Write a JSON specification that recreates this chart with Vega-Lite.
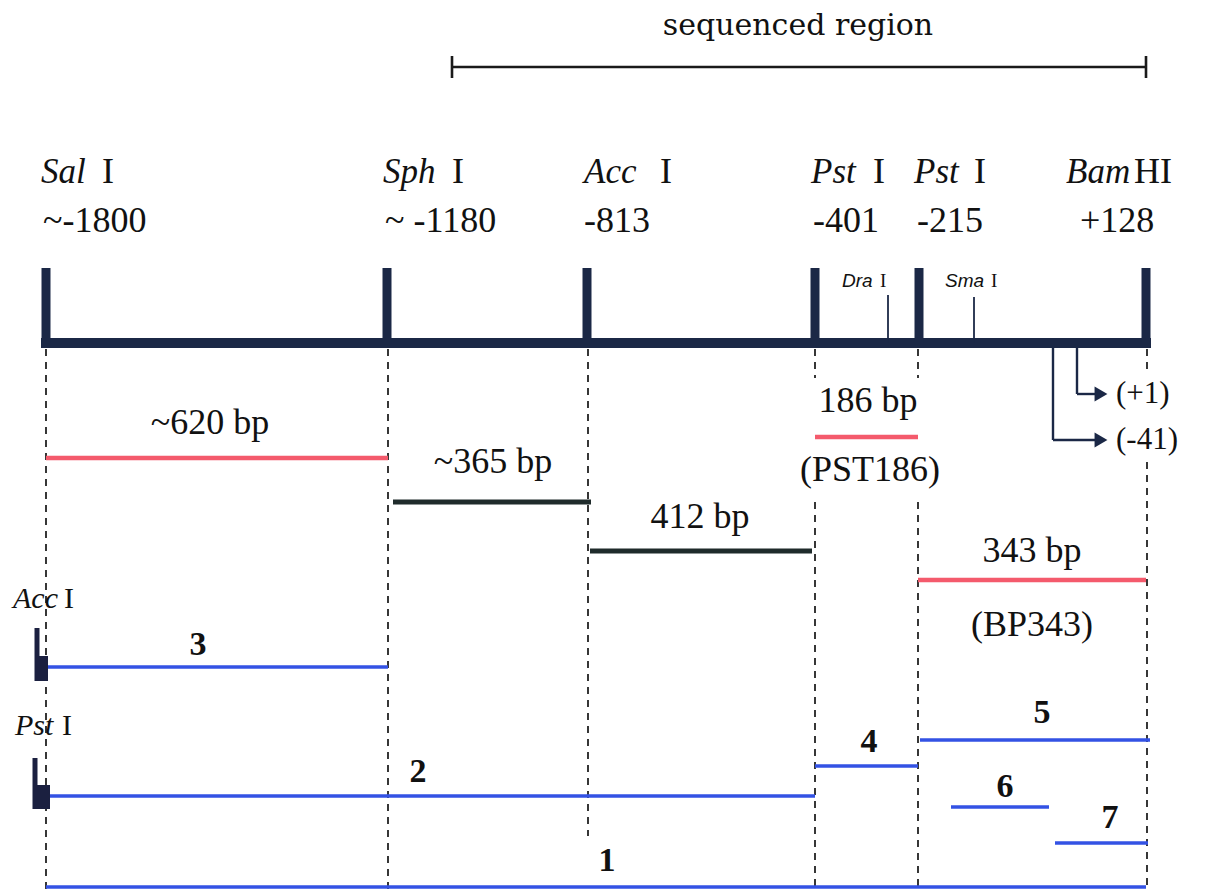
{
  "$schema": "https://vega.github.io/schema/vega-lite/v6.json",
  "width": 1213,
  "height": 891,
  "padding": 0,
  "autosize": {"type": "fit", "contains": "padding"},
  "background": "white",
  "config": {"view": {"stroke": null}},
  "datasets": {
    "segs": [
      {"kind": "seq", "x": 452, "x2": 1146, "y": 67, "y2": 67},
      {"kind": "seqcap", "x": 452, "x2": 452, "y": 56, "y2": 78},
      {"kind": "seqcap", "x": 1146, "x2": 1146, "y": 56, "y2": 78},
      {"kind": "backbone", "x": 41, "x2": 1151, "y": 343, "y2": 343},
      {"kind": "site", "x": 46, "x2": 46, "y": 268, "y2": 343},
      {"kind": "site", "x": 387, "x2": 387, "y": 268, "y2": 343},
      {"kind": "site", "x": 587, "x2": 587, "y": 268, "y2": 343},
      {"kind": "site", "x": 815, "x2": 815, "y": 268, "y2": 343},
      {"kind": "site", "x": 919, "x2": 919, "y": 268, "y2": 343},
      {"kind": "site", "x": 1146, "x2": 1146, "y": 268, "y2": 343},
      {"kind": "minor", "x": 888, "x2": 888, "y": 295, "y2": 343},
      {"kind": "minor", "x": 974, "x2": 974, "y": 297, "y2": 343},
      {"kind": "dash", "x": 46, "x2": 46, "y": 349, "y2": 890},
      {"kind": "dash", "x": 388, "x2": 388, "y": 349, "y2": 890},
      {"kind": "dash", "x": 588, "x2": 588, "y": 349, "y2": 836},
      {"kind": "dash", "x": 815, "x2": 815, "y": 349, "y2": 378},
      {"kind": "dash", "x": 815, "x2": 815, "y": 502, "y2": 890},
      {"kind": "dash", "x": 918, "x2": 918, "y": 349, "y2": 378},
      {"kind": "dash", "x": 918, "x2": 918, "y": 502, "y2": 890},
      {"kind": "dash", "x": 1147, "x2": 1147, "y": 349, "y2": 370},
      {"kind": "dash", "x": 1147, "x2": 1147, "y": 462, "y2": 890},
      {"kind": "red", "x": 46, "x2": 388, "y": 458, "y2": 458},
      {"kind": "red", "x": 815, "x2": 918, "y": 437, "y2": 437},
      {"kind": "red", "x": 918, "x2": 1146, "y": 580, "y2": 580},
      {"kind": "black", "x": 393, "x2": 591, "y": 502, "y2": 502},
      {"kind": "black", "x": 590, "x2": 812, "y": 551, "y2": 551},
      {"kind": "blue", "x": 46, "x2": 388, "y": 667, "y2": 667},
      {"kind": "blue", "x": 46, "x2": 815, "y": 796, "y2": 796},
      {"kind": "blue", "x": 815, "x2": 918, "y": 766, "y2": 766},
      {"kind": "blue", "x": 920, "x2": 1150, "y": 740, "y2": 740},
      {"kind": "blue", "x": 951, "x2": 1049, "y": 807, "y2": 807},
      {"kind": "blue", "x": 1055, "x2": 1148, "y": 843, "y2": 843},
      {"kind": "blue", "x": 46, "x2": 1146, "y": 887, "y2": 887},
      {"kind": "arrow", "x": 1077, "x2": 1077, "y": 343, "y2": 394},
      {"kind": "arrow", "x": 1077, "x2": 1100, "y": 394, "y2": 394},
      {"kind": "arrow", "x": 1053, "x2": 1053, "y": 343, "y2": 440},
      {"kind": "arrow", "x": 1053, "x2": 1100, "y": 440, "y2": 440},
      {"kind": "marker", "x": 37, "x2": 37, "y": 628, "y2": 681},
      {"kind": "marker", "x": 35, "x2": 35, "y": 758, "y2": 809}
    ],
    "blocks": [
      {"x": 35, "x2": 48, "y": 656, "y2": 681},
      {"x": 33, "x2": 50, "y": 785, "y2": 809}
    ],
    "heads": [
      {"x": 1101, "y": 394},
      {"x": 1101, "y": 440}
    ],
    "texts": [
      {"kind": "title", "text": "sequenced region", "x": 798, "y": 35},
      {"kind": "name", "text": "Sal", "x": 41, "y": 183},
      {"kind": "roman", "text": "I", "x": 102, "y": 183},
      {"kind": "name", "text": "Sph", "x": 383, "y": 183},
      {"kind": "roman", "text": "I", "x": 452, "y": 183},
      {"kind": "name", "text": "Acc", "x": 584, "y": 183},
      {"kind": "roman", "text": "I", "x": 660, "y": 183},
      {"kind": "name", "text": "Pst", "x": 811, "y": 183},
      {"kind": "roman", "text": "I", "x": 873, "y": 183},
      {"kind": "name", "text": "Pst", "x": 914, "y": 183},
      {"kind": "roman", "text": "I", "x": 974, "y": 183},
      {"kind": "name", "text": "Bam", "x": 1066, "y": 183},
      {"kind": "roman", "text": "HI", "x": 1134, "y": 183},
      {"kind": "roman", "text": "~-1800", "x": 43, "y": 232},
      {"kind": "roman", "text": "~ -1180", "x": 385, "y": 232},
      {"kind": "roman", "text": "-813", "x": 584, "y": 232},
      {"kind": "roman", "text": "-401", "x": 813, "y": 232},
      {"kind": "roman", "text": "-215", "x": 917, "y": 232},
      {"kind": "roman", "text": "+128", "x": 1080, "y": 232},
      {"kind": "small", "text": "Dra", "x": 842, "y": 287},
      {"kind": "smallroman", "text": "I", "x": 880, "y": 287},
      {"kind": "small", "text": "Sma", "x": 945, "y": 287},
      {"kind": "smallroman", "text": "I", "x": 991, "y": 287},
      {"kind": "frag", "text": "~620 bp", "x": 210, "y": 434},
      {"kind": "frag", "text": "~365 bp", "x": 493, "y": 473},
      {"kind": "frag", "text": "412 bp", "x": 700, "y": 528},
      {"kind": "frag", "text": "186 bp", "x": 868, "y": 412},
      {"kind": "frag", "text": "(PST186)", "x": 870, "y": 481},
      {"kind": "frag", "text": "343 bp", "x": 1032, "y": 562},
      {"kind": "frag", "text": "(BP343)", "x": 1032, "y": 636},
      {"kind": "lane", "text": "3", "x": 198, "y": 655},
      {"kind": "lane", "text": "2", "x": 418, "y": 782},
      {"kind": "lane", "text": "4", "x": 869, "y": 752},
      {"kind": "lane", "text": "5", "x": 1042, "y": 723},
      {"kind": "lane", "text": "6", "x": 1005, "y": 797},
      {"kind": "lane", "text": "7", "x": 1110, "y": 828},
      {"kind": "lane", "text": "1", "x": 607, "y": 871},
      {"kind": "leftname", "text": "Acc", "x": 13, "y": 608},
      {"kind": "leftroman", "text": "I", "x": 64, "y": 608},
      {"kind": "leftname", "text": "Pst", "x": 15, "y": 735},
      {"kind": "leftroman", "text": "I", "x": 62, "y": 735},
      {"kind": "prom", "text": "(+1)", "x": 1116, "y": 403},
      {"kind": "prom", "text": "(-41)", "x": 1116, "y": 449}
    ]
  },
  "encoding": {
    "x": {"field": "x", "type": "quantitative", "axis": null, "scale": {"domain": [0, 1213], "nice": false, "zero": false}},
    "y": {"field": "y", "type": "quantitative", "axis": null, "scale": {"domain": [0, 891], "nice": false, "zero": false, "reverse": true}}
  },
  "layer": [
    {
      "data": {"name": "segs"},
      "transform": [{"filter": "datum.kind === 'seq' || datum.kind === 'seqcap'"}],
      "mark": {"type": "rule", "color": "#1a1a1a", "strokeWidth": 2.6},
      "encoding": {"x2": {"field": "x2"}, "y2": {"field": "y2"}}
    },
    {
      "data": {"name": "segs"},
      "transform": [{"filter": "datum.kind === 'dash'"}],
      "mark": {"type": "rule", "color": "#222222", "strokeWidth": 1.8, "strokeDash": [7, 6]},
      "encoding": {"x2": {"field": "x2"}, "y2": {"field": "y2"}}
    },
    {
      "data": {"name": "segs"},
      "transform": [{"filter": "datum.kind === 'backbone'"}],
      "mark": {"type": "rule", "color": "#1b2846", "strokeWidth": 10},
      "encoding": {"x2": {"field": "x2"}, "y2": {"field": "y2"}}
    },
    {
      "data": {"name": "segs"},
      "transform": [{"filter": "datum.kind === 'site'"}],
      "mark": {"type": "rule", "color": "#1b2846", "strokeWidth": 9},
      "encoding": {"x2": {"field": "x2"}, "y2": {"field": "y2"}}
    },
    {
      "data": {"name": "segs"},
      "transform": [{"filter": "datum.kind === 'minor'"}],
      "mark": {"type": "rule", "color": "#1b2846", "strokeWidth": 1.8},
      "encoding": {"x2": {"field": "x2"}, "y2": {"field": "y2"}}
    },
    {
      "data": {"name": "segs"},
      "transform": [{"filter": "datum.kind === 'red'"}],
      "mark": {"type": "rule", "color": "#f45a6c", "strokeWidth": 4.5},
      "encoding": {"x2": {"field": "x2"}, "y2": {"field": "y2"}}
    },
    {
      "data": {"name": "segs"},
      "transform": [{"filter": "datum.kind === 'black'"}],
      "mark": {"type": "rule", "color": "#1f2b2b", "strokeWidth": 5},
      "encoding": {"x2": {"field": "x2"}, "y2": {"field": "y2"}}
    },
    {
      "data": {"name": "segs"},
      "transform": [{"filter": "datum.kind === 'blue'"}],
      "mark": {"type": "rule", "color": "#3352e4", "strokeWidth": 3.5},
      "encoding": {"x2": {"field": "x2"}, "y2": {"field": "y2"}}
    },
    {
      "data": {"name": "segs"},
      "transform": [{"filter": "datum.kind === 'arrow'"}],
      "mark": {"type": "rule", "color": "#1b2846", "strokeWidth": 2.4},
      "encoding": {"x2": {"field": "x2"}, "y2": {"field": "y2"}}
    },
    {
      "data": {"name": "segs"},
      "transform": [{"filter": "datum.kind === 'marker'"}],
      "mark": {"type": "rule", "color": "#1b2040", "strokeWidth": 5},
      "encoding": {"x2": {"field": "x2"}, "y2": {"field": "y2"}}
    },
    {
      "data": {"name": "blocks"},
      "mark": {"type": "rect", "color": "#1b2040"},
      "encoding": {"x2": {"field": "x2"}, "y2": {"field": "y2"}}
    },
    {
      "data": {"name": "heads"},
      "mark": {"type": "point", "shape": "triangle-right", "filled": true, "size": 220, "color": "#1b2846", "opacity": 1}
    },
    {
      "data": {"name": "texts"},
      "transform": [{"filter": "datum.kind === 'title'"}],
      "mark": {"type": "text", "font": "DejaVu Serif", "fontSize": 30, "align": "center", "baseline": "alphabetic", "color": "#111111"},
      "encoding": {"text": {"field": "text"}}
    },
    {
      "data": {"name": "texts"},
      "transform": [{"filter": "datum.kind === 'name'"}],
      "mark": {"type": "text", "font": "Liberation Serif", "fontStyle": "italic", "fontSize": 35, "align": "left", "baseline": "alphabetic", "color": "#111111"},
      "encoding": {"text": {"field": "text"}}
    },
    {
      "data": {"name": "texts"},
      "transform": [{"filter": "datum.kind === 'roman'"}],
      "mark": {"type": "text", "font": "Liberation Serif", "fontSize": 36, "align": "left", "baseline": "alphabetic", "color": "#111111"},
      "encoding": {"text": {"field": "text"}}
    },
    {
      "data": {"name": "texts"},
      "transform": [{"filter": "datum.kind === 'small'"}],
      "mark": {"type": "text", "font": "Liberation Sans", "fontStyle": "italic", "fontSize": 19, "align": "left", "baseline": "alphabetic", "color": "#111111"},
      "encoding": {"text": {"field": "text"}}
    },
    {
      "data": {"name": "texts"},
      "transform": [{"filter": "datum.kind === 'smallroman'"}],
      "mark": {"type": "text", "font": "Liberation Serif", "fontSize": 19, "align": "left", "baseline": "alphabetic", "color": "#111111"},
      "encoding": {"text": {"field": "text"}}
    },
    {
      "data": {"name": "texts"},
      "transform": [{"filter": "datum.kind === 'frag'"}],
      "mark": {"type": "text", "font": "Liberation Serif", "fontSize": 36, "align": "center", "baseline": "alphabetic", "color": "#111111"},
      "encoding": {"text": {"field": "text"}}
    },
    {
      "data": {"name": "texts"},
      "transform": [{"filter": "datum.kind === 'lane'"}],
      "mark": {"type": "text", "font": "Liberation Serif", "fontWeight": "bold", "fontSize": 34, "align": "center", "baseline": "alphabetic", "color": "#111111"},
      "encoding": {"text": {"field": "text"}}
    },
    {
      "data": {"name": "texts"},
      "transform": [{"filter": "datum.kind === 'leftname'"}],
      "mark": {"type": "text", "font": "Liberation Serif", "fontStyle": "italic", "fontSize": 30, "align": "left", "baseline": "alphabetic", "color": "#111111"},
      "encoding": {"text": {"field": "text"}}
    },
    {
      "data": {"name": "texts"},
      "transform": [{"filter": "datum.kind === 'leftroman'"}],
      "mark": {"type": "text", "font": "Liberation Serif", "fontSize": 30, "align": "left", "baseline": "alphabetic", "color": "#111111"},
      "encoding": {"text": {"field": "text"}}
    },
    {
      "data": {"name": "texts"},
      "transform": [{"filter": "datum.kind === 'prom'"}],
      "mark": {"type": "text", "font": "Liberation Serif", "fontSize": 31, "align": "left", "baseline": "alphabetic", "color": "#111111"},
      "encoding": {"text": {"field": "text"}}
    }
  ]
}
